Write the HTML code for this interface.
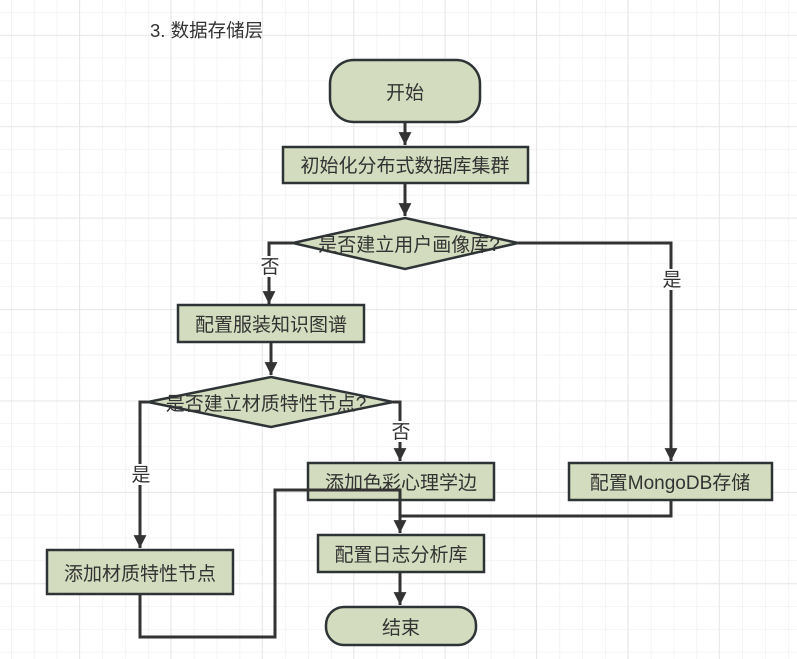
<!DOCTYPE html>
<html><head><meta charset="utf-8"><style>
html,body{margin:0;padding:0;background:#fff;}
svg{display:block;}
text{font-family:"Liberation Sans","Noto Sans CJK SC",sans-serif;font-size:19px;fill:#333;}
</style></head><body>
<svg width="797" height="659" xmlns="http://www.w3.org/2000/svg">
<defs>
<pattern id="minor" x="11" y="12" width="22.85" height="22.85" patternUnits="userSpaceOnUse">
<path d="M0 0H22.85M0 0V22.85" stroke="#efefef" stroke-width="1.3" fill="none"/>
</pattern>
<pattern id="major" x="79" y="35" width="91.4" height="91.4" patternUnits="userSpaceOnUse">
<path d="M0 0H91.4M0 0V91.4" stroke="#e4e4e4" stroke-width="1.5" fill="none"/>
</pattern>
<marker id="a" viewBox="0 0 10 10" refX="10" refY="5" markerWidth="4.3" markerHeight="4.6" orient="auto" markerUnits="strokeWidth">
<path d="M0 0L10 5L0 10z" fill="#333"/>
</marker>
</defs>
<rect width="797" height="659" fill="url(#minor)"/>
<rect width="797" height="659" fill="url(#major)"/>
<text x="150" y="37" style="font-size:18.5px">3. 数据存储层</text>
<g stroke="#333" stroke-width="3" fill="none">
<path d="M405 122V145" marker-end="url(#a)"/>
<path d="M405 183V216" marker-end="url(#a)"/>
<path d="M293 243H269V304" marker-end="url(#a)"/>
<path d="M518 243H671V461" marker-end="url(#a)"/>
<path d="M271 342V375" marker-end="url(#a)"/>
<path d="M148 402H140V548" marker-end="url(#a)"/>
<path d="M393 402H400V461" marker-end="url(#a)"/>
<path d="M140 594V637H275V490H400V533" marker-end="url(#a)"/>
<path d="M671 500V516H400"/>
<path d="M400 571V605" marker-end="url(#a)"/>
</g>
<g fill="#d3dcbe" stroke="#2e3436" stroke-width="2.5">
<rect x="330" y="60" width="150" height="62" rx="24"/>
<rect x="283" y="147" width="245" height="36"/>
<polygon points="405,218 518,243 405,269 293,243"/>
<rect x="178" y="305" width="186" height="37"/>
<polygon points="271,377 393,402 271,427 148,402"/>
<rect x="308" y="463" width="186" height="37"/>
<rect x="569" y="463" width="203" height="37"/>
<rect x="318" y="535" width="166" height="37"/>
<rect x="47" y="550" width="186" height="44"/>
<rect x="326" y="607" width="150" height="38" rx="18"/>
</g>
<path d="M275 490H400V500" stroke="#333" stroke-width="3" fill="none"/>
<g text-anchor="middle">
<text x="405" y="99">开始</text>
<text x="405" y="172">初始化分布式数据库集群</text>
<text x="409" y="251">是否建立用户画像库?</text>
<text x="271" y="331">配置服装知识图谱</text>
<text x="266" y="410">是否建立材质特性节点?</text>
<text x="401" y="489">添加色彩心理学边</text>
<text x="670" y="489">配置MongoDB存储</text>
<text x="401" y="561">配置日志分析库</text>
<text x="140" y="580">添加材质特性节点</text>
<text x="401" y="634">结束</text>
</g>
<g text-anchor="middle" style="font-size:17px">
<rect x="260" y="256" width="20" height="21" fill="#fff"/>
<text x="270" y="273">否</text>
<rect x="661" y="269" width="21" height="21" fill="#fff"/>
<text x="672" y="286">是</text>
<rect x="130" y="464" width="21" height="21" fill="#fff"/>
<text x="141" y="481">是</text>
<rect x="391" y="421" width="20" height="21" fill="#fff"/>
<text x="401" y="438">否</text>
</g>
</svg>
</body></html>
